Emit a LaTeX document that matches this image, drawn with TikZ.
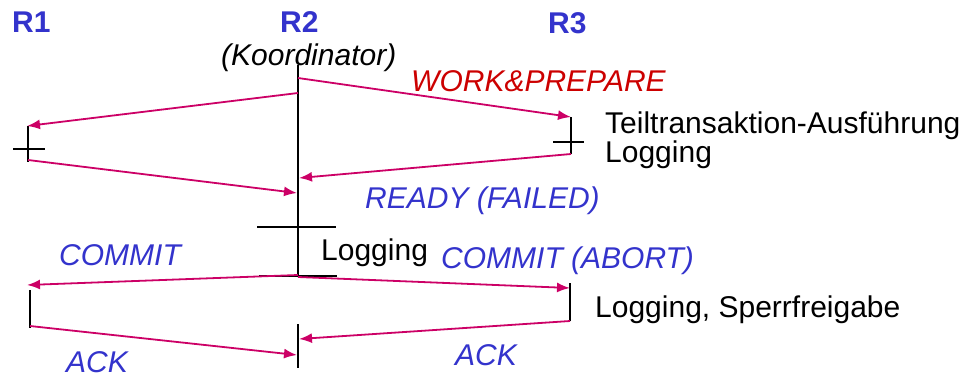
\documentclass[tikz,border=0pt]{standalone}
\usepackage{fontspec}
\setmainfont{Liberation Sans}
\usepackage{tikz}
\usetikzlibrary{arrows.meta}
\definecolor{msgcol}{RGB}{204,0,102}
\definecolor{bluetxt}{RGB}{51,51,204}
\definecolor{redtxt}{RGB}{204,0,0}

\begin{document}
\begin{tikzpicture}[x=1pt,y=-1pt,
        msg/.style={line width=1.8pt, color=msgcol, -{Latex[length=13pt,width=10pt]}},
        lifeline/.style={line width=2pt, black},
        txt/.style={draw=none, anchor=base west, inner sep=0pt, font=\fontsize{30}{29}\selectfont},
        site/.style={txt, color=bluetxt, font=\fontsize{30}{29}\selectfont\bfseries},
        bluemsg/.style={txt, color=bluetxt, font=\fontsize{30}{29}\selectfont\itshape}]
        \useasboundingbox (0,0) rectangle (971,378);

        % coordinates
        \coordinate (k1) at (298,65);
        \coordinate (k2) at (298,276);
        \coordinate (k3) at (298,324);
        \coordinate (k4) at (298,368);
        \coordinate (lt1) at (257,227);
        \coordinate (lt2) at (336,227);
        \coordinate (lb1) at (259,276);
        \coordinate (lb2) at (337,276);

        \coordinate (a1) at (28,126);
        \coordinate (a2) at (28,162);
        \coordinate (a3) at (13,149);
        \coordinate (a4) at (45,149);
        \coordinate (a5) at (30,290);
        \coordinate (a6) at (30,328);

        \coordinate (c1) at (571,117);
        \coordinate (c2) at (571,154);
        \coordinate (c3) at (553,142);
        \coordinate (c4) at (584,142);
        \coordinate (c5) at (570,283);
        \coordinate (c6) at (570,321);

        % lifelines
        \draw[lifeline] (k1) -- (k2);
        \draw[lifeline] (k3) -- (k4);
        \draw[lifeline] (lt1) -- (lt2);
        \draw[lifeline] (lb1) -- (lb2);
        \draw[lifeline] (a1) -- (a2);
        \draw[lifeline] (a3) -- (a4);
        \draw[lifeline] (a5) -- (a6);
        \draw[lifeline] (c1) -- (c2);
        \draw[lifeline] (c3) -- (c4);
        \draw[lifeline] (c5) -- (c6);

        %%%%%%%%%%%%%%%%%%%%%%%%%%%%%%%%%%%%%%%%%%%%%
        % coordinates
        \coordinate (m1s) at (298,93);
        \coordinate (m1e) at (27,126);
        \coordinate (m2s) at (298,78);
        \coordinate (m2e) at (571,117);
        \coordinate (m3s) at (28,160);
        \coordinate (m3e) at (297,193);
        \coordinate (m4s) at (571,154);
        \coordinate (m4e) at (299,178);
        \coordinate (m5s) at (298,275);
        \coordinate (m5e) at (27,285);
        \coordinate (m6s) at (298,277);
        \coordinate (m6e) at (570,288);
        \coordinate (m7s) at (30,326);
        \coordinate (m7e) at (297,355);
        \coordinate (m8s) at (570,321);
        \coordinate (m8e) at (299,339);

        % messages
        \draw[msg] (m1s) -- (m1e);
        \draw[msg] (m2s) -- (m2e);
        \draw[msg] (m3s) -- (m3e);
        \draw[msg] (m4s) -- (m4e);
        \draw[msg] (m5s) -- (m5e);
        \draw[msg] (m6s) -- (m6e);
        \draw[msg] (m7s) -- (m7e);
        \draw[msg] (m8s) -- (m8e);

        % Text
        \node[site] (r1) at (12,32) {R1};
        \node[site] (r2) at (280,32) {R2};
        \node[site] (r3) at (548,33) {R3};
        \node[txt, font=\fontsize{30}{29}\selectfont\itshape] (koord) at (221,65) {(Koordinator)};

        % Text
        \node[txt, color=redtxt, font=\fontsize{30}{29}\selectfont\itshape] (work) at (411,91) {WORK\&PREPARE};
        \node[txt, align=left] (teil) at (605,162) {Teiltransaktion-Ausführung\\Logging};
        \node[bluemsg] (ready) at (365,208) {READY (FAILED)};
        \node[bluemsg] (commitl) at (59,265) {COMMIT};
        \node[txt] (logk) at (321,260) {Logging};
        \node[bluemsg] (commitr) at (441,268) {COMMIT (ABORT)};
        \node[txt] (logsp) at (595,317) {Logging, Sperrfreigabe};
        \node[bluemsg] (ackl) at (66,372) {ACK};
        \node[bluemsg] (ackr) at (455,365) {ACK};
\end{tikzpicture}
\end{document}
